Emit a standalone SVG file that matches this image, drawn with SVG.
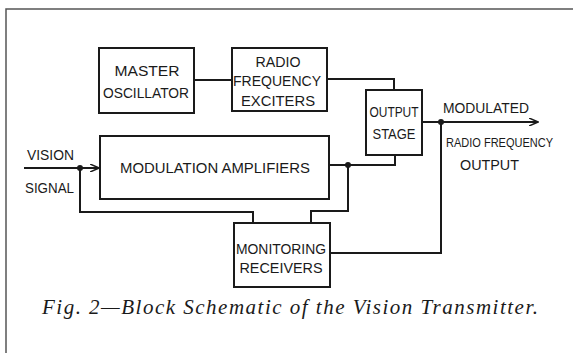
<svg xmlns="http://www.w3.org/2000/svg" width="573" height="353" viewBox="0 0 573 353">
<defs>
<style>
.box{fill:#fff;stroke:#1a1a1a;stroke-width:2}
.ln{fill:none;stroke:#1a1a1a;stroke-width:2}
.t{font-family:"Liberation Sans",Arial,sans-serif;font-size:14px;fill:#1a1a1a}
.s{font-family:"Liberation Sans",Arial,sans-serif;font-size:13px;fill:#1a1a1a}
.cap{font-family:"Liberation Serif","Times New Roman",serif;font-style:italic;font-size:21px;fill:#1a1a1a}
.dot{fill:#1a1a1a}
</style>
<marker id="arr" markerWidth="10" markerHeight="8" refX="9" refY="4" orient="auto" markerUnits="userSpaceOnUse">
<path d="M0,0 L9,4 L0,8" fill="none" stroke="#1a1a1a" stroke-width="1.5"/>
</marker>
</defs>
<rect width="573" height="353" fill="#fff"/>
<g id="frame">
<path d="M6,353 V9 H573" fill="none" stroke="#555" stroke-width="1.5"/>
</g>
<g id="connectors">
<path class="ln" d="M194,80 H232"/>
<path class="ln" d="M327,79 H394 V90"/>
<path class="ln" d="M422,122 H538" marker-end="url(#arr)"/>
<path class="ln" d="M441,122 V253 H330"/>
<path class="ln" d="M24,168 H99" marker-end="url(#arr)"/>
<path class="ln" d="M80,168 V212 H253 V223"/>
<path class="ln" d="M329,165 H395 V155"/>
<path class="ln" d="M348,165 V211 H311 V223"/>
<circle class="dot" cx="441" cy="122" r="3"/>
<circle class="dot" cx="80" cy="168" r="3"/>
<circle class="dot" cx="348" cy="165" r="3"/>
</g>
<g id="master-oscillator">
<rect class="box" x="99" y="48" width="95" height="65"/>
<text class="t" x="147" y="76" text-anchor="middle" textLength="65" lengthAdjust="spacingAndGlyphs">MASTER</text>
<text class="t" x="146" y="98" text-anchor="middle" textLength="86" lengthAdjust="spacingAndGlyphs">OSCILLATOR</text>
</g>
<g id="rf-exciters">
<rect class="box" x="232" y="48" width="95" height="63"/>
<text class="t" x="278" y="67" text-anchor="middle" textLength="45" lengthAdjust="spacingAndGlyphs">RADIO</text>
<text class="t" x="277" y="86" text-anchor="middle" textLength="88" lengthAdjust="spacingAndGlyphs">FREQUENCY</text>
<text class="t" x="278" y="106" text-anchor="middle" textLength="74" lengthAdjust="spacingAndGlyphs">EXCITERS</text>
</g>
<g id="output-stage">
<rect class="box" x="366" y="90" width="56" height="65"/>
<text class="t" x="394" y="117" text-anchor="middle" textLength="49" lengthAdjust="spacingAndGlyphs">OUTPUT</text>
<text class="t" x="394" y="139" text-anchor="middle" textLength="43" lengthAdjust="spacingAndGlyphs">STAGE</text>
</g>
<g id="modulation-amplifiers">
<rect class="box" x="100" y="136" width="229" height="63"/>
<text class="t" x="215" y="173" text-anchor="middle" textLength="190" lengthAdjust="spacingAndGlyphs">MODULATION AMPLIFIERS</text>
</g>
<g id="monitoring-receivers">
<rect class="box" x="234" y="223" width="96" height="64"/>
<text class="t" x="281" y="254" text-anchor="middle" textLength="90" lengthAdjust="spacingAndGlyphs">MONITORING</text>
<text class="t" x="281" y="273" text-anchor="middle" textLength="83" lengthAdjust="spacingAndGlyphs">RECEIVERS</text>
</g>
<g id="labels">
<text class="t" x="27" y="160" textLength="47" lengthAdjust="spacingAndGlyphs">VISION</text>
<text class="t" x="25" y="193" textLength="49" lengthAdjust="spacingAndGlyphs">SIGNAL</text>
<text class="t" x="443" y="113" textLength="86" lengthAdjust="spacingAndGlyphs">MODULATED</text>
<text class="s" x="446" y="147" textLength="107" lengthAdjust="spacingAndGlyphs">RADIO FREQUENCY</text>
<text class="t" x="460" y="170" textLength="59" lengthAdjust="spacingAndGlyphs">OUTPUT</text>
</g>
<text class="cap" x="42" y="314" textLength="496" lengthAdjust="spacing">Fig. 2—Block Schematic of the Vision Transmitter.</text>
</svg>
